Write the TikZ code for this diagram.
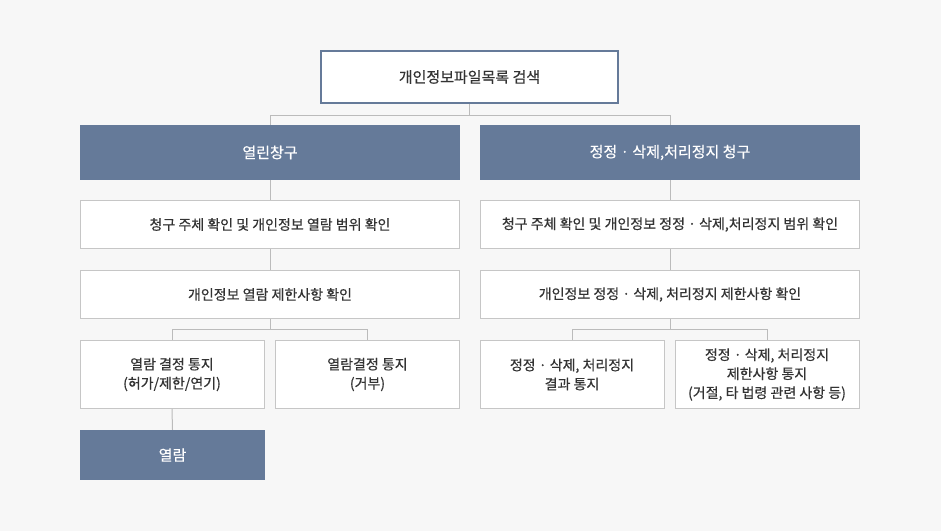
\documentclass[tikz,border=0pt]{standalone}
\usepackage{fontspec}
\setmainfont[FakeBold=0.5]{Noto Sans CJK KR}
\definecolor{bgc}{HTML}{F7F7F7}
\definecolor{bluec}{HTML}{657A99}
\definecolor{linec}{HTML}{BBBBBB}
\definecolor{boxline}{HTML}{C6C6C6}
\definecolor{txt}{HTML}{333333}
\begin{document}
\begin{tikzpicture}[x=1pt,y=-1pt,
  topbox/.style={draw=bluec, line width=2pt, fill=white, minimum width=297pt, minimum height=52pt, inner sep=0pt, text=txt, font=\fontsize{15}{19}\selectfont},
  bluebox/.style={fill=bluec, minimum width=380pt, minimum height=55pt, inner sep=0pt, text=white, font=\fontsize{15}{19}\selectfont},
  wbox/.style={draw=boxline, line width=1pt, fill=white, minimum width=379pt, minimum height=48pt, inner sep=0pt, text=txt, font=\fontsize{14}{19}\selectfont, align=center},
  sbox/.style={draw=boxline, line width=1pt, fill=white, minimum width=184pt, minimum height=68pt, inner sep=0pt, text=txt, font=\fontsize{14}{19}\selectfont, align=center},
  endbox/.style={fill=bluec, minimum width=185pt, minimum height=50pt, inner sep=0pt, text=white, font=\fontsize{15}{19}\selectfont},
  conn/.style={draw=linec, line width=1pt}
]
\fill[bgc] (0,0) rectangle (941,531);
\useasboundingbox (0,0) rectangle (941,531);

\node[topbox] (top) at (469.5,77) {개인정보파일목록 검색};

\node[bluebox] (b1) at (270,152.5) {열린창구};
\node[bluebox] (b2) at (670,152.5) {정정 · 삭제,처리정지 청구};

\node[wbox] (l2) at (270,224.5) {청구 주체 확인 및 개인정보 열람 범위 확인};
\node[wbox] (r2) at (670,224.5) {청구 주체 확인 및 개인정보 정정 · 삭제,처리정지 범위 확인};

\node[wbox] (l3) at (270,294.5) {개인정보 열람 제한사항 확인};
\node[wbox] (r3) at (670,294.5) {개인정보 정정 · 삭제, 처리정지 제한사항 확인};

\node[sbox] (l4a) at (172,374.5) {열람 결정 통지\\(허가/제한/연기)};
\node[sbox] (l4b) at (367.5,374.5) {열람결정 통지\\(거부)};
\node[sbox] (r4a) at (572,374.5) {정정 · 삭제, 처리정지\\결과 통지};
\node[sbox] (r4b) at (767,374.5) {정정 · 삭제, 처리정지\\제한사항 통지\\(거절, 타 법령 관련 사항 등)};

\node[endbox] (l5) at (172.5,455) {열람};

\draw[conn] (top.south) -- ++(0,11) -| (b1.north);
\draw[conn] (top.south) -- ++(0,11) -| (b2.north);
\draw[conn] (b1.south) -- (l2.north);
\draw[conn] (b2.south) -- (r2.north);
\draw[conn] (l2.south) -- (l3.north);
\draw[conn] (r2.south) -- (r3.north);
\draw[conn] (l3.south) -- ++(0,10) -| (l4a.north);
\draw[conn] (l3.south) -- ++(0,10) -| (l4b.north);
\draw[conn] (r3.south) -- ++(0,10) -| (r4a.north);
\draw[conn] (r3.south) -- ++(0,10) -| (r4b.north);
\draw[conn] (l4a.south) -- (l5.north);
\end{tikzpicture}
\end{document}
